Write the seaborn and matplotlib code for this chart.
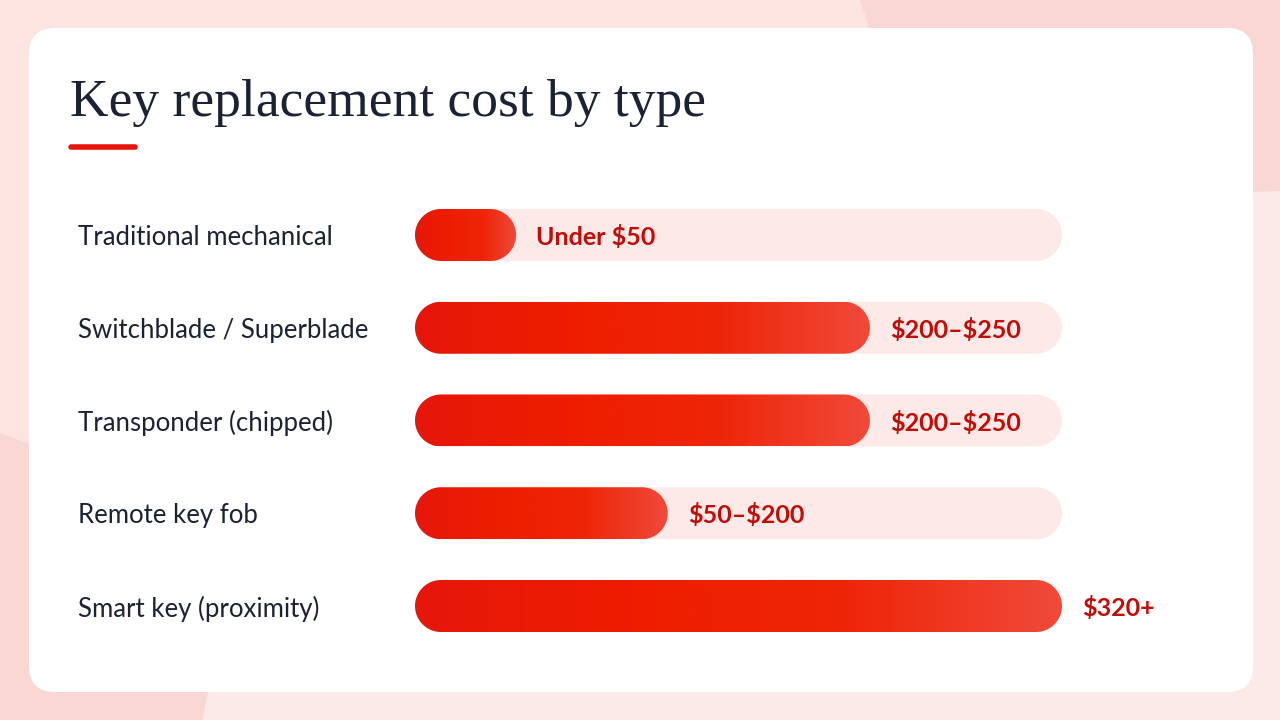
"""
Key replacement cost by type - rounded gradient bar chart
"""
import numpy as np
import pandas as pd
import matplotlib
matplotlib.use("Agg")
import matplotlib.pyplot as plt
from matplotlib.patches import FancyBboxPatch, Ellipse, Polygon
from matplotlib.colors import LinearSegmentedColormap
import seaborn as sns

# data
key_types = ["Traditional mechanical", "Switchblade / Superblade",
             "Transponder (chipped)", "Remote key fob", "Smart key (proximity)"]
cost_mid = [50, 225, 225, 125, 320]
cost_labels = ["Under \\$50", "\\$200\u2013\\$250", "\\$200\u2013\\$250",
               "\\$50\u2013\\$200", "\\$320+"]
scale_max = 320

title = "Key replacement cost by type"

# colours
bg_pink = "#f9d8d4"
track_col = "#fde9e8"
value_col = "#c00d08"
text_col = "#1b2233"
grad = LinearSegmentedColormap.from_list(
    "redgrad", ["#e6170b", "#ee1d00", "#ee2508", "#f04a3b"])

df = pd.DataFrame({"type": key_types, "cost": cost_mid,
                   "track": [scale_max] * len(key_types)})


def stadium(x, y, w, h, rx):
    """Pill shape in data units; rx = cap radius along x."""
    cy, hh = y + h / 2, h / 2
    t = np.linspace(-np.pi / 2, np.pi / 2, 40)
    right = np.column_stack([x + w - rx + rx * np.cos(t), cy + hh * np.sin(t)])
    t2 = np.linspace(np.pi / 2, 3 * np.pi / 2, 40)
    left = np.column_stack([x + rx + rx * np.cos(t2), cy + hh * np.sin(t2)])
    return np.vstack([right, left])


sns.set_theme(style="white")
plt.rcParams["font.family"] = ["Lato", "DejaVu Sans"]

W, H = 1280, 720
fig = plt.figure(figsize=(12.8, 7.2), dpi=100)
fig.patch.set_facecolor(bg_pink)

# background decoration, pixel coordinates
bg = fig.add_axes([0, 0, 1, 1])
bg.set_xlim(0, W)
bg.set_ylim(H, 0)
bg.axis("off")
bg.add_patch(Ellipse((300, 100), 1158, 778, color="#fce4e1", lw=0))
bg.add_patch(Ellipse((1350, 760), 2300, 1140, color="#fbeae8", lw=0))
bg.add_patch(FancyBboxPatch((29, 28), 1224, 664,
                            boxstyle="round,pad=0,rounding_size=26",
                            fc="white", ec="none"))
bg.text(70, 116, title, fontsize=38.5, family=["Liberation Serif", "DejaVu Serif"],
        color=text_col, va="baseline", ha="left")
bg.plot([71, 135], [147, 147], color="#e8140c", lw=4, solid_capstyle="round")

# chart axes: x 0..320 -> px 415..1062, rows centred at 235..606
x0_px, x1_px = 415, 1062
row_px = (606 - 235) / 4
top_px = 235 - row_px / 2
bot_px = 606 + row_px / 2
ax = fig.add_axes([x0_px / W, (H - bot_px) / H,
                   (x1_px - x0_px) / W, (bot_px - top_px) / H])

bar_h = 52 / row_px
sns.barplot(data=df, x="track", y="type", color=track_col, width=bar_h,
            ax=ax, saturation=1)
sns.barplot(data=df, x="cost", y="type", color="#ee1d00", width=bar_h,
            ax=ax, saturation=1)
ax.axis("off")

xu_per_px = scale_max / (x1_px - x0_px)
rad_x = 26 * xu_per_px

n = len(key_types)
patches = list(ax.patches)
for i, p in enumerate(patches):
    x, y, w, h = p.get_x(), p.get_y(), p.get_width(), p.get_height()
    p.remove()
    pill = Polygon(stadium(x, y, w, h, rad_x), closed=True, lw=0,
                   fc=track_col if i < n else "none")
    ax.add_patch(pill)
    if i >= n:
        g = np.linspace(0, 1, 256).reshape(1, -1)
        im = ax.imshow(g, cmap=grad, extent=[x, x + w, y + h, y],
                       aspect="auto", zorder=3, interpolation="bilinear")
        im.set_clip_path(pill)

ax.set_xlim(0, scale_max)
ax.set_ylim(n - 0.5, -0.5)

# labels
for i, (name, val, lab) in enumerate(zip(key_types, cost_mid, cost_labels)):
    ax.text(val + 20 * xu_per_px, i, lab, color=value_col, fontsize=18,
            fontweight="bold", va="center_baseline", ha="left", zorder=5,
            clip_on=False)
    bg.text(78, top_px + row_px * (i + 0.5), name, color=text_col,
            fontsize=18.5, va="center_baseline", ha="left")

fig.savefig("out.png", dpi=100, facecolor=fig.get_facecolor())
